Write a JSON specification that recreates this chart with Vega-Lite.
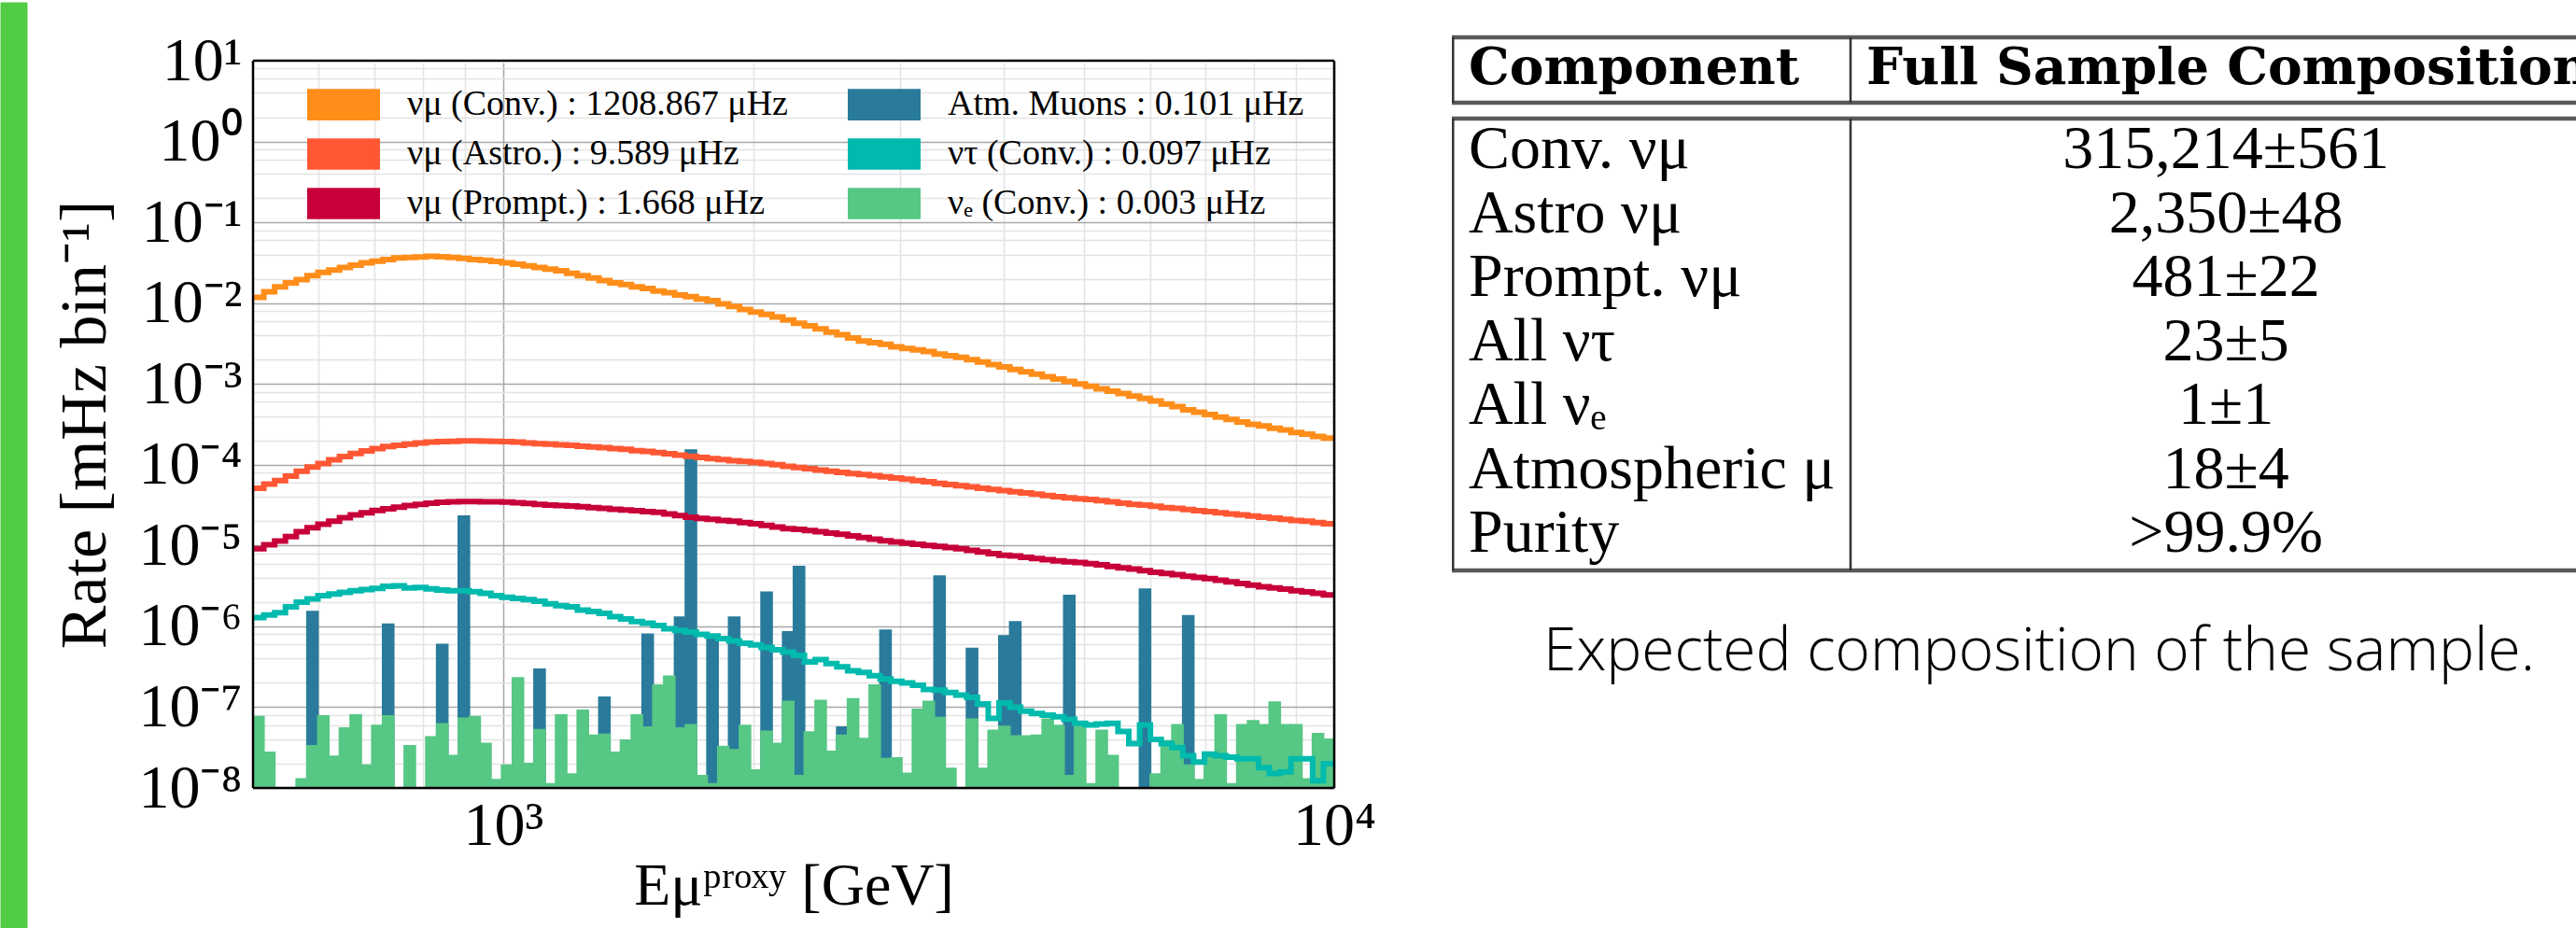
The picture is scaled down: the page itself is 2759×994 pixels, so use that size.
{
"$schema": "https://vega.github.io/schema/vega-lite/v6.json",
"padding": 0,
"background": "white",
"config": {
  "view": {"stroke": null},
  "rect": {"stroke": "black"},
  "axis": {"labelFont": "Liberation Serif", "titleFont": "Liberation Serif", "labelColor": "black", "titleColor": "black", "titleFontWeight": "normal"}
},
"datasets": {
"bins": [
{"lo":500,"hi":515.2,"conv":1.175e-2,"astro":5.129e-5,"prompt":9.120e-6,"tau":1.288e-6,"nue":7.586e-8},
{"lo":515.2,"hi":530.9,"conv":1.380e-2,"astro":5.754e-5,"prompt":1.023e-5,"tau":1.380e-6,"nue":2.754e-8},
{"lo":530.9,"hi":547.0,"conv":1.585e-2,"astro":6.383e-5,"prompt":1.135e-5,"tau":1.479e-6},
{"lo":547.0,"hi":563.7,"conv":1.778e-2,"astro":7.244e-5,"prompt":1.288e-5,"tau":1.738e-6},
{"lo":563.7,"hi":580.8,"conv":1.950e-2,"astro":8.318e-5,"prompt":1.479e-5,"tau":1.995e-6,"nue":1.288e-8},
{"lo":580.8,"hi":598.5,"conv":2.188e-2,"astro":9.333e-5,"prompt":1.660e-5,"tau":2.188e-6,"muon":1.514e-6,"nue":3.311e-8},
{"lo":598.5,"hi":616.7,"conv":2.399e-2,"astro":1.035e-4,"prompt":1.841e-5,"tau":2.399e-6,"nue":7.762e-8},
{"lo":616.7,"hi":635.4,"conv":2.570e-2,"astro":1.148e-4,"prompt":1.995e-5,"tau":2.512e-6,"nue":2.455e-8},
{"lo":635.4,"hi":654.7,"conv":2.754e-2,"astro":1.259e-4,"prompt":2.213e-5,"tau":2.630e-6,"nue":5.495e-8},
{"lo":654.7,"hi":674.6,"conv":2.951e-2,"astro":1.380e-4,"prompt":2.399e-5,"tau":2.754e-6,"nue":7.943e-8},
{"lo":674.6,"hi":695.2,"conv":3.162e-2,"astro":1.479e-4,"prompt":2.541e-5,"tau":2.851e-6,"nue":1.905e-8},
{"lo":695.2,"hi":716.3,"conv":3.311e-2,"astro":1.585e-4,"prompt":2.723e-5,"tau":2.951e-6,"nue":5.888e-8},
{"lo":716.3,"hi":738.1,"conv":3.467e-2,"astro":1.679e-4,"prompt":2.851e-5,"tau":3.126e-6,"muon":1.062e-6,"nue":7.762e-8},
{"lo":738.1,"hi":760.5,"conv":3.631e-2,"astro":1.738e-4,"prompt":2.985e-5,"tau":3.162e-6},
{"lo":760.5,"hi":783.7,"conv":3.673e-2,"astro":1.799e-4,"prompt":3.126e-5,"tau":2.985e-6,"nue":3.311e-8},
{"lo":783.7,"hi":807.5,"conv":3.715e-2,"astro":1.862e-4,"prompt":3.236e-5,"tau":3.020e-6},
{"lo":807.5,"hi":832.0,"conv":3.802e-2,"astro":1.905e-4,"prompt":3.350e-5,"tau":2.917e-6,"nue":4.266e-8},
{"lo":832.0,"hi":857.4,"conv":3.758e-2,"astro":1.928e-4,"prompt":3.428e-5,"tau":2.818e-6,"muon":5.916e-7,"nue":6.166e-8},
{"lo":857.4,"hi":883.4,"conv":3.673e-2,"astro":1.950e-4,"prompt":3.467e-5,"tau":2.754e-6,"nue":2.512e-8},
{"lo":883.4,"hi":910.3,"conv":3.589e-2,"astro":1.968e-4,"prompt":3.508e-5,"tau":2.754e-6,"muon":2.301e-5,"nue":7.244e-8},
{"lo":910.3,"hi":938.0,"conv":3.467e-2,"astro":1.972e-4,"prompt":3.508e-5,"tau":2.692e-6,"nue":7.586e-8},
{"lo":938.0,"hi":966.5,"conv":3.388e-2,"astro":1.963e-4,"prompt":3.483e-5,"tau":2.570e-6,"nue":3.548e-8},
{"lo":966.5,"hi":995.9,"conv":3.273e-2,"astro":1.950e-4,"prompt":3.467e-5,"tau":2.399e-6,"nue":1.259e-8},
{"lo":995.9,"hi":1026.2,"conv":3.162e-2,"astro":1.936e-4,"prompt":3.443e-5,"tau":2.291e-6,"nue":1.905e-8},
{"lo":1026.2,"hi":1057.4,"conv":3.020e-2,"astro":1.905e-4,"prompt":3.388e-5,"tau":2.213e-6,"nue":2.291e-7},
{"lo":1057.4,"hi":1089.5,"conv":2.884e-2,"astro":1.862e-4,"prompt":3.311e-5,"tau":2.138e-6,"nue":1.995e-8},
{"lo":1089.5,"hi":1122.7,"conv":2.754e-2,"astro":1.820e-4,"prompt":3.236e-5,"tau":2.042e-6,"muon":2.938e-7,"nue":5.248e-8},
{"lo":1122.7,"hi":1156.8,"conv":2.630e-2,"astro":1.799e-4,"prompt":3.162e-5,"tau":1.905e-6,"nue":1.122e-8},
{"lo":1156.8,"hi":1192.0,"conv":2.512e-2,"astro":1.758e-4,"prompt":3.126e-5,"tau":1.799e-6,"nue":7.943e-8},
{"lo":1192.0,"hi":1228.2,"conv":2.344e-2,"astro":1.738e-4,"prompt":3.090e-5,"tau":1.738e-6,"nue":1.479e-8},
{"lo":1228.2,"hi":1265.6,"conv":2.188e-2,"astro":1.698e-4,"prompt":3.020e-5,"tau":1.585e-6,"nue":9.120e-8},
{"lo":1265.6,"hi":1304.1,"conv":2.042e-2,"astro":1.660e-4,"prompt":2.951e-5,"tau":1.531e-6,"nue":4.467e-8},
{"lo":1304.1,"hi":1343.7,"conv":1.905e-2,"astro":1.622e-4,"prompt":2.884e-5,"tau":1.445e-6,"muon":1.321e-7,"nue":4.571e-8},
{"lo":1343.7,"hi":1384.6,"conv":1.778e-2,"astro":1.585e-4,"prompt":2.818e-5,"tau":1.318e-6,"nue":2.754e-8},
{"lo":1384.6,"hi":1426.7,"conv":1.698e-2,"astro":1.549e-4,"prompt":2.754e-5,"tau":1.230e-6,"nue":3.890e-8},
{"lo":1426.7,"hi":1470.1,"conv":1.585e-2,"astro":1.496e-4,"prompt":2.692e-5,"tau":1.148e-6,"nue":7.943e-8},
{"lo":1470.1,"hi":1514.8,"conv":1.514e-2,"astro":1.462e-4,"prompt":2.630e-5,"tau":1.096e-6,"muon":7.943e-7,"nue":5.623e-8},
{"lo":1514.8,"hi":1560.9,"conv":1.413e-2,"astro":1.413e-4,"prompt":2.570e-5,"tau":1.023e-6,"nue":1.862e-7},
{"lo":1560.9,"hi":1608.3,"conv":1.349e-2,"astro":1.365e-4,"prompt":2.455e-5,"tau":9.333e-7,"nue":2.399e-7},
{"lo":1608.3,"hi":1657.2,"conv":1.259e-2,"astro":1.318e-4,"prompt":2.344e-5,"tau":8.913e-7,"muon":1.291e-6,"nue":5.495e-8},
{"lo":1657.2,"hi":1707.6,"conv":1.202e-2,"astro":1.274e-4,"prompt":2.239e-5,"tau":8.511e-7,"muon":1.510e-4,"nue":6.026e-8},
{"lo":1707.6,"hi":1759.6,"conv":1.122e-2,"astro":1.230e-4,"prompt":2.163e-5,"tau":7.943e-7,"nue":1.413e-8},
{"lo":1759.6,"hi":1813.1,"conv":1.072e-2,"astro":1.189e-4,"prompt":2.113e-5,"tau":7.586e-7,"muon":7.244e-7,"nue":1.122e-8},
{"lo":1813.1,"hi":1868.2,"conv":9.772e-3,"astro":1.161e-4,"prompt":2.042e-5,"tau":7.079e-7,"nue":3.236e-8},
{"lo":1868.2,"hi":1925.0,"conv":9.120e-3,"astro":1.122e-4,"prompt":1.995e-5,"tau":6.607e-7,"muon":1.291e-6,"nue":2.951e-8},
{"lo":1925.0,"hi":1983.6,"conv":8.318e-3,"astro":1.096e-4,"prompt":1.928e-5,"tau":6.166e-7,"nue":5.888e-8},
{"lo":1983.6,"hi":2043.9,"conv":7.762e-3,"astro":1.072e-4,"prompt":1.862e-5,"tau":5.888e-7,"nue":1.660e-8},
{"lo":2043.9,"hi":2106.0,"conv":7.244e-3,"astro":1.035e-4,"prompt":1.778e-5,"tau":5.495e-7,"muon":2.630e-6,"nue":5.012e-8},
{"lo":2106.0,"hi":2170.1,"conv":6.761e-3,"astro":1.000e-4,"prompt":1.698e-5,"tau":5.129e-7,"nue":3.548e-8},
{"lo":2170.1,"hi":2236.1,"conv":6.166e-3,"astro":9.550e-5,"prompt":1.622e-5,"tau":4.786e-7,"muon":8.511e-7,"nue":1.175e-7},
{"lo":2236.1,"hi":2304.1,"conv":5.623e-3,"astro":9.226e-5,"prompt":1.585e-5,"tau":4.365e-7,"muon":5.470e-6,"nue":1.413e-8},
{"lo":2304.1,"hi":2374.1,"conv":5.248e-3,"astro":8.913e-5,"prompt":1.531e-5,"tau":3.631e-7,"nue":4.898e-8},
{"lo":2374.1,"hi":2446.3,"conv":4.786e-3,"astro":8.610e-5,"prompt":1.479e-5,"tau":3.890e-7,"nue":1.202e-7},
{"lo":2446.3,"hi":2520.7,"conv":4.365e-3,"astro":8.318e-5,"prompt":1.429e-5,"tau":3.467e-7,"nue":2.818e-8},
{"lo":2520.7,"hi":2597.4,"conv":4.074e-3,"astro":8.035e-5,"prompt":1.380e-5,"tau":3.162e-7,"muon":5.636e-8,"nue":4.467e-8},
{"lo":2597.4,"hi":2676.4,"conv":3.715e-3,"astro":7.762e-5,"prompt":1.318e-5,"tau":2.818e-7,"nue":1.259e-7},
{"lo":2676.4,"hi":2757.8,"conv":3.388e-3,"astro":7.586e-5,"prompt":1.259e-5,"tau":2.692e-7,"nue":4.074e-8},
{"lo":2757.8,"hi":2841.6,"conv":3.236e-3,"astro":7.328e-5,"prompt":1.202e-5,"tau":2.455e-7,"nue":1.862e-7},
{"lo":2841.6,"hi":2928.0,"conv":3.090e-3,"astro":7.079e-5,"prompt":1.148e-5,"tau":2.239e-7,"muon":8.913e-7,"nue":2.291e-8},
{"lo":2928.0,"hi":3017.1,"conv":2.884e-3,"astro":6.839e-5,"prompt":1.109e-5,"tau":2.089e-7,"nue":2.344e-8},
{"lo":3017.1,"hi":3108.8,"conv":2.754e-3,"astro":6.607e-5,"prompt":1.072e-5,"tau":1.995e-7,"nue":1.514e-8},
{"lo":3108.8,"hi":3203.4,"conv":2.630e-3,"astro":6.383e-5,"prompt":1.035e-5,"tau":1.862e-7,"nue":9.333e-8},
{"lo":3203.4,"hi":3300.8,"conv":2.512e-3,"astro":6.166e-5,"prompt":1.000e-5,"tau":1.660e-7,"nue":1.175e-7},
{"lo":3300.8,"hi":3401.2,"conv":2.344e-3,"astro":5.888e-5,"prompt":9.772e-6,"tau":1.622e-7,"muon":4.169e-6,"nue":7.413e-8},
{"lo":3401.2,"hi":3504.6,"conv":2.239e-3,"astro":5.689e-5,"prompt":9.441e-6,"tau":1.514e-7,"nue":1.738e-8},
{"lo":3504.6,"hi":3611.2,"conv":2.138e-3,"astro":5.495e-5,"prompt":9.120e-6,"tau":1.413e-7},
{"lo":3611.2,"hi":3721.0,"conv":1.995e-3,"astro":5.309e-5,"prompt":8.710e-6,"tau":1.318e-7,"muon":5.309e-7,"nue":7.079e-8},
{"lo":3721.0,"hi":3834.2,"conv":1.862e-3,"astro":5.129e-5,"prompt":8.318e-6,"tau":1.096e-7,"nue":1.738e-8},
{"lo":3834.2,"hi":3950.8,"conv":1.738e-3,"astro":4.955e-5,"prompt":7.943e-6,"tau":7.244e-8,"nue":5.129e-8},
{"lo":3950.8,"hi":4070.9,"conv":1.622e-3,"astro":4.786e-5,"prompt":7.586e-6,"tau":1.122e-7,"muon":7.586e-7,"nue":5.754e-8},
{"lo":4070.9,"hi":4194.7,"conv":1.514e-3,"astro":4.624e-5,"prompt":7.413e-6,"tau":1.000e-7,"muon":1.130e-6,"nue":4.365e-8},
{"lo":4194.7,"hi":4322.3,"conv":1.413e-3,"astro":4.467e-5,"prompt":7.161e-6,"tau":8.913e-8,"nue":4.365e-8},
{"lo":4322.3,"hi":4453.7,"conv":1.318e-3,"astro":4.315e-5,"prompt":6.918e-6,"tau":8.318e-8,"nue":4.467e-8},
{"lo":4453.7,"hi":4589.1,"conv":1.230e-3,"astro":4.169e-5,"prompt":6.683e-6,"tau":7.943e-8,"nue":7.079e-8},
{"lo":4589.1,"hi":4728.7,"conv":1.148e-3,"astro":4.027e-5,"prompt":6.457e-6,"tau":7.586e-8,"nue":5.888e-8},
{"lo":4728.7,"hi":4872.5,"conv":1.072e-3,"astro":3.890e-5,"prompt":6.310e-6,"tau":7.079e-8,"muon":2.399e-6,"nue":1.413e-8},
{"lo":4872.5,"hi":5020.7,"conv":1.000e-3,"astro":3.802e-5,"prompt":6.166e-6,"tau":6.310e-8,"nue":5.754e-8},
{"lo":5020.7,"hi":5173.4,"conv":9.333e-4,"astro":3.715e-5,"prompt":5.957e-6,"tau":6.026e-8,"nue":1.122e-8},
{"lo":5173.4,"hi":5330.7,"conv":8.710e-4,"astro":3.589e-5,"prompt":5.754e-6,"tau":6.166e-8,"nue":5.129e-8},
{"lo":5330.7,"hi":5492.8,"conv":8.128e-4,"astro":3.467e-5,"prompt":5.495e-6,"tau":6.310e-8,"nue":2.512e-8},
{"lo":5492.8,"hi":5659.8,"conv":7.586e-4,"astro":3.350e-5,"prompt":5.309e-6,"tau":5.012e-8},
{"lo":5659.8,"hi":5832.0,"conv":7.079e-4,"astro":3.236e-5,"prompt":5.129e-6,"tau":3.548e-8},
{"lo":5832.0,"hi":6009.3,"conv":6.607e-4,"astro":3.162e-5,"prompt":4.898e-6,"tau":6.026e-8,"muon":2.871e-6},
{"lo":6009.3,"hi":6192.1,"conv":6.166e-4,"astro":3.055e-5,"prompt":4.677e-6,"tau":3.981e-8,"nue":1.479e-8},
{"lo":6192.1,"hi":6380.4,"conv":5.623e-4,"astro":2.951e-5,"prompt":4.519e-6,"tau":3.548e-8,"nue":3.802e-8},
{"lo":6380.4,"hi":6574.4,"conv":5.248e-4,"astro":2.884e-5,"prompt":4.365e-6,"tau":3.162e-8,"nue":6.026e-8},
{"lo":6574.4,"hi":6774.3,"conv":4.786e-4,"astro":2.786e-5,"prompt":4.169e-6,"tau":2.512e-8,"muon":1.349e-6,"nue":1.905e-8},
{"lo":6774.3,"hi":6980.4,"conv":4.467e-4,"astro":2.692e-5,"prompt":4.027e-6,"tau":2.089e-8,"nue":1.259e-8},
{"lo":6980.4,"hi":7192.6,"conv":4.169e-4,"astro":2.630e-5,"prompt":3.890e-6,"tau":2.630e-8,"nue":2.399e-8},
{"lo":7192.6,"hi":7411.4,"conv":3.890e-4,"astro":2.541e-5,"prompt":3.715e-6,"tau":2.512e-8,"nue":7.943e-8},
{"lo":7411.4,"hi":7636.7,"conv":3.631e-4,"astro":2.455e-5,"prompt":3.548e-6,"tau":2.399e-8,"nue":1.122e-8},
{"lo":7636.7,"hi":7869.0,"conv":3.388e-4,"astro":2.399e-5,"prompt":3.388e-6,"tau":2.291e-8,"nue":6.026e-8},
{"lo":7869.0,"hi":8108.3,"conv":3.162e-4,"astro":2.317e-5,"prompt":3.236e-6,"tau":2.291e-8,"nue":6.761e-8},
{"lo":8108.3,"hi":8354.8,"conv":3.020e-4,"astro":2.239e-5,"prompt":3.090e-6,"tau":1.778e-8,"nue":6.026e-8},
{"lo":8354.8,"hi":8608.9,"conv":2.818e-4,"astro":2.188e-5,"prompt":2.985e-6,"tau":1.514e-8,"nue":1.148e-7},
{"lo":8608.9,"hi":8870.7,"conv":2.692e-4,"astro":2.113e-5,"prompt":2.884e-6,"tau":1.585e-8,"nue":6.026e-8},
{"lo":8870.7,"hi":9140.5,"conv":2.512e-4,"astro":2.042e-5,"prompt":2.754e-6,"tau":2.291e-8,"nue":6.026e-8},
{"lo":9140.5,"hi":9418.5,"conv":2.399e-4,"astro":1.995e-5,"prompt":2.661e-6,"tau":2.291e-8,"nue":1.288e-8},
{"lo":9418.5,"hi":9704.9,"conv":2.239e-4,"astro":1.928e-5,"prompt":2.570e-6,"tau":1.230e-8,"nue":4.677e-8},
{"lo":9704.9,"hi":10000,"conv":2.138e-4,"astro":1.862e-5,"prompt":2.455e-6,"tau":1.995e-8,"nue":3.981e-8},
{"lo":10000,"conv":2.138e-4,"astro":1.862e-5,"prompt":2.455e-6,"tau":1.995e-8}
],
"cells": [
{"row":1,"component":"Conv. νμ","count":"315,214±561"},
{"row":2,"component":"Astro νμ","count":"2,350±48"},
{"row":3,"component":"Prompt. νμ","count":"481±22"},
{"row":4,"component":"All ντ","count":"23±5"},
{"row":5,"component":"All νₑ","count":"1±1"},
{"row":6,"component":"Atmospheric μ","count":"18±4"},
{"row":7,"component":"Purity","count":">99.9%"}
]
},
"bounds": "flush",
"spacing": 0,
"hconcat": [
{
  "width": 28, "height": 994,
  "view": {"stroke": null, "fill": "#52cc44"},
  "data": {"values": [{}]},
  "mark": {"type": "rect", "color": "#52cc44", "stroke": "#52cc44"},
  "encoding": {}
},
{
  "width": 242, "height": 1,
  "view": {"stroke": null},
  "data": {"values": [{}]},
  "mark": {"type": "rect", "opacity": 0},
  "encoding": {}
},
{
  "width": 1158, "height": 841,
  "view": {"stroke": null},
  "layer": [
    {
      "data": {"name": "bins"},
      "mark": {"type": "rect", "clip": true, "stroke": "#2a7b9b", "strokeWidth": 2},
      "encoding": {
        "x": {"field": "lo", "type": "quantitative", "title": "Eμᵖʳᵒˣʸ [GeV]",
          "scale": {"type": "log", "domain": [500, 10000], "nice": false},
          "axis": {
            "values": [500,600,700,800,900,1000,2000,3000,4000,5000,6000,7000,8000,9000,10000],
            "grid": true,
            "gridColor": {"condition": {"test": "abs(log(datum.value)/LN10 - round(log(datum.value)/LN10)) < 0.001", "value": "#a8a8a8"}, "value": "#e3e3e3"},
            "gridWidth": 1.5,
            "ticks": false, "tickSize": 0, "domain": false,
            "labelExpr": "abs(log(datum.value)/LN10 - round(log(datum.value)/LN10)) < 0.001 ? '10' + (round(log(datum.value)/LN10) < 0 ? '⁻' : '') + substring('⁰¹²³⁴⁵⁶⁷⁸⁹', abs(round(log(datum.value)/LN10)), abs(round(log(datum.value)/LN10)) + 1) : ''",
            "labelFontSize": 66, "labelPadding": 8, "labelOverlap": false, "labelFlush": false, "labelBound": false,
            "titleFontSize": 64, "titlePadding": 0
          }
        },
        "x2": {"field": "hi"},
        "y": {"field": "muon", "type": "quantitative", "title": "Rate [mHz bin⁻¹]",
          "scale": {"type": "log", "domain": [1e-8, 52.04], "nice": false},
          "axis": {
            "values": [1e-8,2e-8,4e-8,6e-8,8e-8,1e-7,2e-7,4e-7,6e-7,8e-7,1e-6,2e-6,4e-6,6e-6,8e-6,1e-5,2e-5,4e-5,6e-5,8e-5,1e-4,2e-4,4e-4,6e-4,8e-4,1e-3,2e-3,4e-3,6e-3,8e-3,1e-2,2e-2,4e-2,6e-2,8e-2,1e-1,2e-1,4e-1,6e-1,8e-1,1,2,4,6,8,10],
            "grid": true,
            "gridColor": {"condition": {"test": "abs(log(datum.value)/LN10 - round(log(datum.value)/LN10)) < 0.001", "value": "#a8a8a8"}, "value": "#e3e3e3"},
            "gridWidth": 1.5,
            "ticks": false, "tickSize": 0, "domain": false,
            "labelExpr": "abs(log(datum.value)/LN10 - round(log(datum.value)/LN10)) < 0.001 ? '10' + (round(log(datum.value)/LN10) < 0 ? '⁻' : '') + substring('⁰¹²³⁴⁵⁶⁷⁸⁹', abs(round(log(datum.value)/LN10)), abs(round(log(datum.value)/LN10)) + 1) : ''",
            "labelFontSize": 66, "labelPadding": 12, "labelOverlap": false, "labelFlush": false, "labelBound": false, "labelBaseline": "middle",
            "titleFontSize": 70, "titlePadding": 20, "titleY": 451.5
          }
        },
        "y2": {"datum": 1e-9},
        "color": {"datum": "Atm. Muons : 0.101 μHz", "type": "nominal",
          "scale": {"domain": ["νμ (Conv.) : 1208.867 μHz", "νμ (Astro.) : 9.589 μHz", "νμ (Prompt.) : 1.668 μHz", "Atm. Muons : 0.101 μHz", "ντ (Conv.) : 0.097 μHz", "νₑ (Conv.) : 0.003 μHz"],
                    "range": ["#ff8d1a", "#ff5733", "#c70039", "#2a7b9b", "#00baad", "#57c785"]},
          "legend": {
            "orient": "none", "legendX": 348, "legendY": 90, "columns": 2, "title": null,
            "symbolType": "M-2.5,-1H2.5V1H-2.5Z", "symbolSize": 876, "symbolStrokeWidth": 4, "symbolStrokeColor": "black",
            "labelFont": "Liberation Serif", "labelFontSize": 38, "labelColor": "black", "labelOffset": 49, "labelLimit": 2000,
            "columnPadding": 58, "rowPadding": 7, "padding": 0
          }
        }
      }
    },
    {
      "data": {"name": "bins"},
      "mark": {"type": "rect", "clip": true, "stroke": "#57c785", "strokeWidth": 2},
      "encoding": {
        "x": {"field": "lo", "type": "quantitative", "title": "Eμᵖʳᵒˣʸ [GeV]", "scale": {"type": "log", "domain": [500, 10000], "nice": false}},
        "x2": {"field": "hi"},
        "y": {"field": "nue", "type": "quantitative", "title": "Rate [mHz bin⁻¹]", "scale": {"type": "log", "domain": [1e-8, 52.04], "nice": false}},
        "y2": {"datum": 1e-9},
        "color": {"datum": "νₑ (Conv.) : 0.003 μHz", "type": "nominal", "legend": null}
      }
    },
    {
      "data": {"name": "bins"},
      "mark": {"type": "line", "interpolate": "step-after", "strokeWidth": 6, "clip": true},
      "encoding": {
        "x": {"field": "lo", "type": "quantitative", "title": "Eμᵖʳᵒˣʸ [GeV]", "scale": {"type": "log", "domain": [500, 10000], "nice": false}},
        "y": {"field": "tau", "type": "quantitative", "title": "Rate [mHz bin⁻¹]", "scale": {"type": "log", "domain": [1e-8, 52.04], "nice": false}},
        "color": {"datum": "ντ (Conv.) : 0.097 μHz", "type": "nominal", "legend": null}
      }
    },
    {
      "data": {"name": "bins"},
      "mark": {"type": "line", "interpolate": "step-after", "strokeWidth": 6, "clip": true},
      "encoding": {
        "x": {"field": "lo", "type": "quantitative", "title": "Eμᵖʳᵒˣʸ [GeV]", "scale": {"type": "log", "domain": [500, 10000], "nice": false}},
        "y": {"field": "prompt", "type": "quantitative", "title": "Rate [mHz bin⁻¹]", "scale": {"type": "log", "domain": [1e-8, 52.04], "nice": false}},
        "color": {"datum": "νμ (Prompt.) : 1.668 μHz", "type": "nominal", "legend": null}
      }
    },
    {
      "data": {"name": "bins"},
      "mark": {"type": "line", "interpolate": "step-after", "strokeWidth": 6, "clip": true},
      "encoding": {
        "x": {"field": "lo", "type": "quantitative", "title": "Eμᵖʳᵒˣʸ [GeV]", "scale": {"type": "log", "domain": [500, 10000], "nice": false}},
        "y": {"field": "astro", "type": "quantitative", "title": "Rate [mHz bin⁻¹]", "scale": {"type": "log", "domain": [1e-8, 52.04], "nice": false}},
        "color": {"datum": "νμ (Astro.) : 9.589 μHz", "type": "nominal", "legend": null}
      }
    },
    {
      "data": {"name": "bins"},
      "mark": {"type": "line", "interpolate": "step-after", "strokeWidth": 6, "clip": true},
      "encoding": {
        "x": {"field": "lo", "type": "quantitative", "title": "Eμᵖʳᵒˣʸ [GeV]", "scale": {"type": "log", "domain": [500, 10000], "nice": false}},
        "y": {"field": "conv", "type": "quantitative", "title": "Rate [mHz bin⁻¹]", "scale": {"type": "log", "domain": [1e-8, 52.04], "nice": false}},
        "color": {"datum": "νμ (Conv.) : 1208.867 μHz", "type": "nominal", "legend": null}
      }
    },
    {
      "data": {"values": [{}]},
      "mark": {"type": "rect", "color": "white", "opacity": 1, "stroke": "white", "strokeWidth": 5},
      "encoding": {
        "y": {"datum": 10, "type": "quantitative", "scale": {"type": "log", "domain": [1e-8, 52.04], "nice": false}},
        "y2": {"datum": 52.04}
      }
    },
    {
      "data": {"values": [{}]},
      "mark": {"type": "rule", "color": "black", "strokeWidth": 2.5},
      "encoding": {"y": {"datum": 10, "type": "quantitative", "scale": {"type": "log", "domain": [1e-8, 52.04], "nice": false}}}
    },
    {
      "data": {"values": [{}]},
      "mark": {"type": "rule", "color": "black", "strokeWidth": 2.5},
      "encoding": {"y": {"datum": 1e-8, "type": "quantitative", "scale": {"type": "log", "domain": [1e-8, 52.04], "nice": false}}}
    },
    {
      "data": {"values": [{}]},
      "mark": {"type": "rule", "color": "black", "strokeWidth": 2.5},
      "encoding": {
        "x": {"datum": 500, "type": "quantitative", "scale": {"type": "log", "domain": [500, 10000], "nice": false}},
        "y": {"datum": 1e-8, "type": "quantitative", "scale": {"type": "log", "domain": [1e-8, 52.04], "nice": false}},
        "y2": {"datum": 10}
      }
    },
    {
      "data": {"values": [{}]},
      "mark": {"type": "rule", "color": "black", "strokeWidth": 2.5},
      "encoding": {
        "x": {"datum": 10000, "type": "quantitative", "scale": {"type": "log", "domain": [500, 10000], "nice": false}},
        "y": {"datum": 1e-8, "type": "quantitative", "scale": {"type": "log", "domain": [1e-8, 52.04], "nice": false}},
        "y2": {"datum": 10}
      }
    }
  ]
},
{
  "width": 126, "height": 1,
  "view": {"stroke": null},
  "data": {"values": [{}]},
  "mark": {"type": "rect", "opacity": 0},
  "encoding": {}
},
{
  "width": 1205, "height": 994,
  "view": {"stroke": null},
  "layer": [
    {
      "data": {"values": [{}]},
      "mark": {"type": "rule", "color": "#5a5a5a", "strokeWidth": 4.5},
      "encoding": {"y": {"datum": -1.044, "type": "quantitative", "scale": {"domain": [-1.584, 12.927], "reverse": true, "nice": false, "zero": false}, "axis": null}}
    },
    {
      "data": {"values": [{}]},
      "mark": {"type": "rule", "color": "#5a5a5a", "strokeWidth": 4.5},
      "encoding": {"y": {"datum": -0.022, "type": "quantitative", "scale": {"domain": [-1.584, 12.927], "reverse": true, "nice": false, "zero": false}, "axis": null}}
    },
    {
      "data": {"values": [{}]},
      "mark": {"type": "rule", "color": "#5a5a5a", "strokeWidth": 4.5},
      "encoding": {"y": {"datum": 0.226, "type": "quantitative", "scale": {"domain": [-1.584, 12.927], "reverse": true, "nice": false, "zero": false}, "axis": null}}
    },
    {
      "data": {"values": [{}]},
      "mark": {"type": "rule", "color": "#5a5a5a", "strokeWidth": 4.5},
      "encoding": {"y": {"datum": 7.292, "type": "quantitative", "scale": {"domain": [-1.584, 12.927], "reverse": true, "nice": false, "zero": false}, "axis": null}}
    },
    {
      "data": {"values": [{}]},
      "mark": {"type": "rule", "color": "#333333", "strokeWidth": 2.5},
      "encoding": {
        "x": {"datum": 0.003, "type": "quantitative", "scale": {"domain": [0, 2.822], "nice": false, "zero": false}, "axis": null},
        "y": {"datum": -1.044, "type": "quantitative", "scale": {"domain": [-1.584, 12.927], "reverse": true, "nice": false, "zero": false}, "axis": null},
        "y2": {"datum": -0.022}
      }
    },
    {
      "data": {"values": [{}]},
      "mark": {"type": "rule", "color": "#333333", "strokeWidth": 2.5},
      "encoding": {
        "x": {"datum": 0.003, "type": "quantitative", "scale": {"domain": [0, 2.822], "nice": false, "zero": false}, "axis": null},
        "y": {"datum": 0.226, "type": "quantitative", "scale": {"domain": [-1.584, 12.927], "reverse": true, "nice": false, "zero": false}, "axis": null},
        "y2": {"datum": 7.292}
      }
    },
    {
      "data": {"values": [{}]},
      "mark": {"type": "rule", "color": "#333333", "strokeWidth": 2.5},
      "encoding": {
        "x": {"datum": 1.0, "type": "quantitative", "scale": {"domain": [0, 2.822], "nice": false, "zero": false}, "axis": null},
        "y": {"datum": -1.044, "type": "quantitative", "scale": {"domain": [-1.584, 12.927], "reverse": true, "nice": false, "zero": false}, "axis": null},
        "y2": {"datum": -0.022}
      }
    },
    {
      "data": {"values": [{}]},
      "mark": {"type": "rule", "color": "#333333", "strokeWidth": 2.5},
      "encoding": {
        "x": {"datum": 1.0, "type": "quantitative", "scale": {"domain": [0, 2.822], "nice": false, "zero": false}, "axis": null},
        "y": {"datum": 0.226, "type": "quantitative", "scale": {"domain": [-1.584, 12.927], "reverse": true, "nice": false, "zero": false}, "axis": null},
        "y2": {"datum": 7.292}
      }
    },
    {
      "data": {"values": [{"a": "Component", "b": "Full Sample Composition"}]},
      "mark": {"type": "text", "align": "left", "baseline": "alphabetic", "font": "DejaVu Serif", "fontWeight": "bold", "fontSize": 55, "color": "black", "clip": true},
      "encoding": {
        "x": {"datum": 0.042, "type": "quantitative", "scale": {"domain": [0, 2.822], "nice": false, "zero": false}, "axis": null},
        "y": {"datum": -0.314, "type": "quantitative", "scale": {"domain": [-1.584, 12.927], "reverse": true, "nice": false, "zero": false}, "axis": null},
        "text": {"field": "a"}
      }
    },
    {
      "data": {"values": [{"a": "Component", "b": "Full Sample Composition"}]},
      "mark": {"type": "text", "align": "left", "baseline": "alphabetic", "font": "DejaVu Serif", "fontWeight": "bold", "fontSize": 55, "color": "black", "clip": true},
      "encoding": {
        "x": {"datum": 1.04, "type": "quantitative", "scale": {"domain": [0, 2.822], "nice": false, "zero": false}, "axis": null},
        "y": {"datum": -0.314, "type": "quantitative", "scale": {"domain": [-1.584, 12.927], "reverse": true, "nice": false, "zero": false}, "axis": null},
        "text": {"field": "b"}
      }
    },
    {
      "data": {"name": "cells"},
      "mark": {"type": "text", "align": "left", "baseline": "alphabetic", "font": "Liberation Serif", "fontSize": 66, "color": "black", "clip": true},
      "encoding": {
        "x": {"datum": 0.042, "type": "quantitative", "scale": {"domain": [0, 2.822], "nice": false, "zero": false}, "axis": null},
        "y": {"field": "row", "type": "quantitative", "scale": {"domain": [-1.584, 12.927], "reverse": true, "nice": false, "zero": false}, "axis": null},
        "text": {"field": "component"}
      }
    },
    {
      "data": {"name": "cells"},
      "mark": {"type": "text", "align": "center", "baseline": "alphabetic", "font": "Liberation Serif", "fontSize": 66, "color": "black", "clip": true},
      "encoding": {
        "x": {"datum": 1.9415, "type": "quantitative", "scale": {"domain": [0, 2.822], "nice": false, "zero": false}, "axis": null},
        "y": {"field": "row", "type": "quantitative", "scale": {"domain": [-1.584, 12.927], "reverse": true, "nice": false, "zero": false}, "axis": null},
        "text": {"field": "count"}
      }
    },
    {
      "data": {"values": [{"caption": "Expected composition of the sample."}]},
      "mark": {"type": "text", "align": "center", "baseline": "alphabetic", "font": "Open Sans", "fontWeight": 300, "fontSize": 64, "color": "black"},
      "encoding": {
        "x": {"datum": 1.473, "type": "quantitative", "scale": {"domain": [0, 2.822], "nice": false, "zero": false}, "axis": null},
        "y": {"datum": 8.854, "type": "quantitative", "scale": {"domain": [-1.584, 12.927], "reverse": true, "nice": false, "zero": false}, "axis": null},
        "text": {"field": "caption"}
      }
    }
  ]
}
]
}
